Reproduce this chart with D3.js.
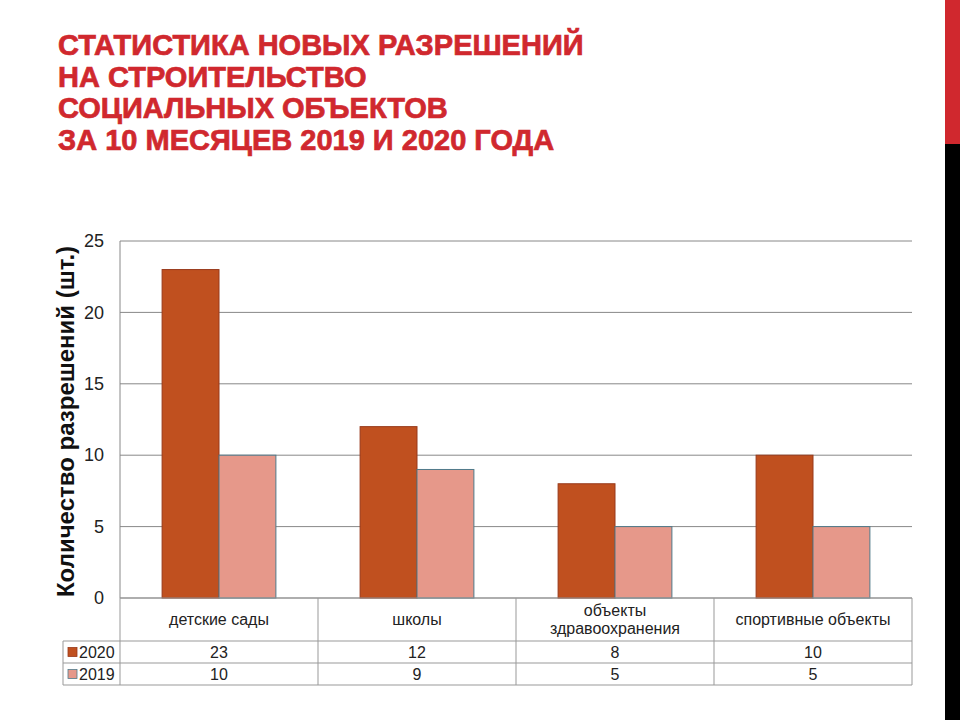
<!DOCTYPE html>
<html>
<head>
<meta charset="utf-8">
<script src="https://cdn.jsdelivr.net/npm/d3@7"></script>
<style>
  body { margin: 0; background: #fff; }
  svg { display: block; font-family: "Liberation Sans", Arial, sans-serif; }
</style>
</head>
<body>
<svg id="chart" width="960" height="720"></svg>
<script>
const titleLines = [
    "СТАТИСТИКА НОВЫХ РАЗРЕШЕНИЙ",
    "НА СТРОИТЕЛЬСТВО",
    "СОЦИАЛЬНЫХ ОБЪЕКТОВ",
    "ЗА 10 МЕСЯЦЕВ 2019 И 2020 ГОДА"
];
const categories = ["детские сады", "школы", "объекты\nздравоохранения", "спортивные объекты"];
const seriesNames = ["2020", "2019"];
const values2020 = [23, 12, 8, 10];
const values2019 = [10, 9, 5, 5];
const yTicks = [0, 5, 10, 15, 20, 25];
const yLabel = "Количество разрешений (шт.)";

const colors = {
    title: "#d0282e",
    s2020: "#c0501f",
    s2020Edge: "#98391a",
    s2019: "#e6988a",
    s2019Edge: "#4f7a8a",
    grid: "#888888",
    table: "#999999",
    text: "#222222"
};

const svg = d3.select("#chart");

// боковая полоса справа
svg.append("rect").attr("x", 945).attr("y", 0).attr("width", 15).attr("height", 144).attr("fill", "#d0282e");
svg.append("rect").attr("x", 945).attr("y", 144).attr("width", 15).attr("height", 576).attr("fill", "#000");

// заголовок
svg.append("g").selectAll("text")
    .data(titleLines)
    .enter().append("text")
    .attr("x", 58)
    .attr("y", (d, i) => 55 + i * 31.7)
    .attr("fill", colors.title)
    .attr("stroke", colors.title)
    .attr("stroke-width", 0.7)
    .attr("font-size", "29px")
    .attr("font-weight", "bold")
    .text(d => d);

const plot = { left: 120, right: 912, top: 241, bottom: 598 };

const x = d3.scaleBand()
    .domain(categories)
    .range([plot.left, plot.right]);

const xInner = d3.scaleBand()
    .domain(seriesNames)
    .range([0, x.bandwidth()])
    .paddingInner(0)
    .paddingOuter(0.74);

const y = d3.scaleLinear()
    .domain([0, 25])
    .range([plot.bottom, plot.top]);

// сетка
svg.append("g").selectAll("line")
    .data(yTicks)
    .enter().append("line")
    .attr("x1", plot.left).attr("x2", plot.right)
    .attr("y1", d => y(d)).attr("y2", d => y(d))
    .attr("stroke", colors.grid).attr("stroke-width", 1);

svg.append("line")
    .attr("x1", plot.left).attr("x2", plot.left)
    .attr("y1", plot.top).attr("y2", plot.bottom)
    .attr("stroke", colors.grid);

// ось Y
const yAxis = svg.append("g")
    .attr("transform", `translate(${plot.left},0)`)
    .call(d3.axisLeft(y).tickValues(yTicks).tickSize(0).tickPadding(16));
yAxis.select(".domain").remove();
yAxis.selectAll("text")
    .attr("font-family", '"Liberation Sans", Arial, sans-serif')
    .attr("font-size", "18px")
    .attr("fill", colors.text);

svg.append("text")
    .attr("transform", `translate(74,${(plot.top + plot.bottom) / 2 + 2}) rotate(-90)`)
    .attr("text-anchor", "middle")
    .attr("font-size", "24px")
    .attr("font-weight", "bold")
    .attr("fill", "#111")
    .text(yLabel);

// столбцы
const series = [
    { name: "2020", values: values2020, fill: colors.s2020, edge: colors.s2020Edge },
    { name: "2019", values: values2019, fill: colors.s2019, edge: colors.s2019Edge }
];

series.forEach(s => {
    svg.append("g").selectAll("rect")
        .data(categories.map((c, i) => ({ cat: c, v: s.values[i] })))
        .enter().append("rect")
        .attr("x", d => x(d.cat) + xInner(s.name))
        .attr("y", d => y(d.v))
        .attr("width", xInner.bandwidth())
        .attr("height", d => y(0) - y(d.v))
        .attr("fill", s.fill)
        .attr("stroke", s.edge)
        .attr("stroke-width", 1);
});

// таблица данных
const rows = { head: [598, 641], r2020: [641, 663], r2019: [663, 685] };
const legendLeft = 63;
const tbl = svg.append("g").attr("stroke", colors.table).attr("fill", "none");

tbl.append("line").attr("x1", plot.left).attr("x2", plot.right).attr("y1", rows.head[0]).attr("y2", rows.head[0]);
[rows.r2020[0], rows.r2019[0], rows.r2019[1]].forEach(yy => {
    tbl.append("line").attr("x1", legendLeft).attr("x2", plot.right).attr("y1", yy).attr("y2", yy);
});
tbl.append("line").attr("x1", legendLeft).attr("x2", legendLeft).attr("y1", rows.r2020[0]).attr("y2", rows.r2019[1]);
const vlines = categories.map(c => x(c)).concat([plot.right]);
tbl.selectAll(".v")
    .data(vlines)
    .enter().append("line")
    .attr("x1", d => d).attr("x2", d => d)
    .attr("y1", rows.head[0]).attr("y2", rows.r2019[1]);

// подписи категорий
categories.forEach(c => {
    const lines = c.split("\n");
    const cx = x(c) + x.bandwidth() / 2;
    const cy = (rows.head[0] + rows.head[1]) / 2;
    const t = svg.append("text")
        .attr("text-anchor", "middle")
        .attr("font-size", "16px")
        .attr("fill", colors.text);
    lines.forEach((l, i) => {
        t.append("tspan")
            .attr("x", cx)
            .attr("y", cy + 5 + (i - (lines.length - 1) / 2) * 18)
            .text(l);
    });
});

// строки значений
series.forEach(s => {
    const r = s.name === "2020" ? rows.r2020 : rows.r2019;
    const cy = (r[0] + r[1]) / 2;
    svg.append("rect")
        .attr("x", 68).attr("y", cy - 4.5)
        .attr("width", 9).attr("height", 9)
        .attr("fill", s.fill)
        .attr("stroke", s.edge).attr("stroke-width", 0.8);
    svg.append("text")
        .attr("x", 79).attr("y", cy + 6)
        .attr("font-size", "16px")
        .attr("fill", colors.text)
        .text(s.name);
    svg.append("g").selectAll("text")
        .data(categories.map((c, i) => ({ cat: c, v: s.values[i] })))
        .enter().append("text")
        .attr("x", d => x(d.cat) + x.bandwidth() / 2)
        .attr("y", cy + 6)
        .attr("text-anchor", "middle")
        .attr("font-size", "16px")
        .attr("fill", colors.text)
        .text(d => d.v);
});
</script>
</body>
</html>
